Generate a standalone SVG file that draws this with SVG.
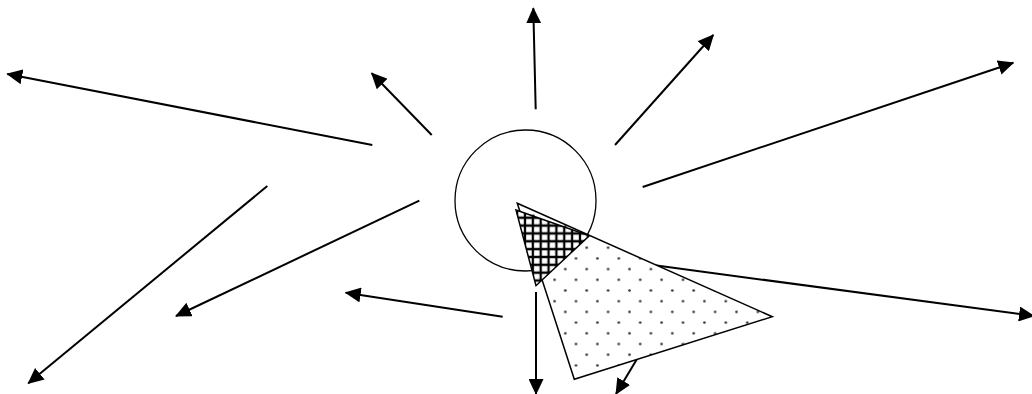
<svg xmlns="http://www.w3.org/2000/svg" width="1032" height="394" viewBox="0 0 1032 394">
<style>
.arrow{stroke:#000;stroke-width:2;fill:none;marker-end:url(#ah)}
.outline{stroke:#000;stroke-width:1.5;stroke-linejoin:miter}
</style>
<defs>
<marker id="ah" markerUnits="userSpaceOnUse" viewBox="0 0 16 15" refX="15" refY="7.5" markerWidth="16" markerHeight="15" orient="auto">
<path d="M0,0 L16,7.5 L0,15 z" fill="#000"/>
</marker>
<pattern id="dots" patternUnits="userSpaceOnUse" x="581.35" y="242.35" width="21.4" height="21.4">
<rect width="21.4" height="21.4" fill="#fff"/>
<circle cx="5.35" cy="5.35" r="1.3" fill="#333"/>
<circle cx="16.05" cy="16.05" r="1.3" fill="#333"/>
</pattern>
<pattern id="grid" patternUnits="userSpaceOnUse" x="521.1" y="213.8" width="7.85" height="7.85">
<rect width="7.85" height="7.85" fill="#fff"/>
<path d="M3.9,0 V7.85 M0,3.9 H7.85" stroke="#000" stroke-width="2.3"/>
</pattern>
</defs>
<rect width="1032" height="394" fill="#fff"/>
<g id="sun">
<circle cx="525.5" cy="200.5" r="70.5" fill="none" stroke="#000" stroke-width="1.3"/>
</g>
<g id="connectors">
<line class="arrow" x1="535.7" y1="109.3" x2="533.3" y2="8.3"/>
<line class="arrow" x1="615" y1="145" x2="713.3" y2="35"/>
<line class="arrow" x1="642.7" y1="187" x2="1013.3" y2="62.7"/>
<line class="arrow" x1="372.3" y1="145" x2="7.3" y2="74"/>
<line class="arrow" x1="431.7" y1="135" x2="371.7" y2="73.3"/>
<line class="arrow" x1="267.3" y1="186" x2="28.3" y2="383.3"/>
<line class="arrow" x1="419.3" y1="200.7" x2="176" y2="316"/>
<line class="arrow" x1="502.7" y1="316.7" x2="345.7" y2="292.7"/>
<line class="arrow" x1="536" y1="292" x2="536" y2="394"/>
<line class="arrow" x1="640" y1="263.3" x2="1034" y2="316"/>
</g>
<g id="light-beam">
<polygon class="outline" points="517.3,203.3 772.3,316.7 574.3,379.3" fill="url(#dots)"/>
</g>
<g id="shadow">
<polygon class="outline" points="516,210 589.3,235.7 536,285.7" fill="url(#grid)"/>
</g>
<g id="connectors-top">
<line class="arrow" x1="636.7" y1="359.6" x2="616" y2="394"/>
</g>
</svg>
